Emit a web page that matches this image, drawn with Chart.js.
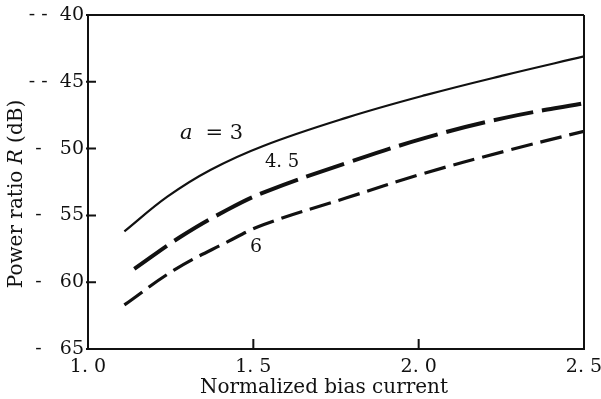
<!DOCTYPE html>
<html>
<head>
<meta charset="utf-8">
<script src="https://cdn.jsdelivr.net/npm/chart.js@4/dist/chart.umd.min.js"></script>
<style>
  html, body { margin: 0; padding: 0; background: #fff; }
  #wrap { width: 601px; height: 399px; }
</style>
</head>
<body>
<div id="wrap"><canvas id="c" width="601" height="399"></canvas></div>
<script>
// ---- data ----
const xA3  = [1.11, 1.24, 1.37, 1.53, 1.78, 2.02, 2.26, 2.50];
const yA3  = [-56.2, -53.6, -51.6, -49.8, -47.7, -46.0, -44.5, -43.1];
const xA45 = [1.14, 1.28, 1.42, 1.54, 1.78, 2.02, 2.26, 2.50];
const yA45 = [-59.0, -56.6, -54.6, -53.2, -51.1, -49.2, -47.7, -46.6];
const xA6  = [1.11, 1.26, 1.42, 1.53, 1.78, 2.01, 2.26, 2.50];
const yA6  = [-61.7, -59.1, -57.0, -55.7, -53.7, -51.9, -50.2, -48.7];

const xTickValues = [1.0, 1.5, 2.0, 2.5];
const xTickLabels = ['1. 0', '1. 5', '2. 0', '2. 5'];
const yTickValues = [-40, -45, -50, -55, -60, -65];
const yTickLabels = ['- -  40', '- -  45', '-   50', '-   55', '-   60', '-   65'];

const xTitle = 'Normalized bias current';
const yTitleParts = [['Power ratio ', ''], ['R', 'italic '], [' (dB)', '']];

const curveLabels = [
  { text: '= 3', italicPrefix: 'a', x: 1.278, y: -48.85, size: 21 },
  { text: '4. 5', italicPrefix: '', x: 1.535, y: -51.0, size: 18 },
  { text: '6', italicPrefix: '', x: 1.49, y: -57.4, size: 19 }
];

const INK = '#111';
const SERIF = '"DejaVu Serif", "Liberation Serif", serif';

function pts(xs, ys) { return xs.map((x, i) => ({ x: x, y: ys[i] })); }

const frame = {
  id: 'frame',
  afterDraw(chart) {
    const ctx = chart.ctx, a = chart.chartArea;
    const xs = chart.scales.x, ys = chart.scales.y;
    ctx.save();
    ctx.strokeStyle = INK;
    ctx.lineWidth = 2;
    ctx.beginPath();
    ctx.moveTo(a.left, a.top); ctx.lineTo(a.right, a.top);
    ctx.moveTo(a.right, a.top); ctx.lineTo(a.right, a.bottom);
    ctx.stroke();
    // inward ticks
    ctx.beginPath();
    yTickValues.forEach(v => {
      const py = ys.getPixelForValue(v);
      ctx.moveTo(a.left - 2, py); ctx.lineTo(a.left + 8, py);
    });
    xTickValues.forEach(v => {
      const px = xs.getPixelForValue(v);
      ctx.moveTo(px, a.bottom); ctx.lineTo(px, a.bottom - 10);
    });
    ctx.stroke();
    // curve labels
    ctx.fillStyle = INK;
    ctx.textBaseline = 'middle';
    curveLabels.forEach(l => {
      let px = xs.getPixelForValue(l.x);
      const py = ys.getPixelForValue(l.y);
      ctx.textAlign = 'left';
      if (l.italicPrefix) {
        ctx.font = 'italic ' + l.size + 'px ' + SERIF;
        ctx.fillText(l.italicPrefix, px, py);
        px += ctx.measureText(l.italicPrefix).width + 13;
      }
      ctx.font = l.size + 'px ' + SERIF;
      ctx.fillText(l.text, px, py);
    });
    // x title
    ctx.font = '20px ' + SERIF;
    ctx.textAlign = 'center';
    ctx.fillText(xTitle, 324, 388);
    // y title with italic R
    const fs = '20px ';
    let total = 0;
    yTitleParts.forEach(p => { ctx.font = p[1] + fs + SERIF; total += ctx.measureText(p[0]).width; });
    ctx.translate(17, 194);
    ctx.rotate(-Math.PI / 2);
    let cx = -total / 2;
    ctx.textAlign = 'left';
    yTitleParts.forEach(p => {
      ctx.font = p[1] + fs + SERIF;
      ctx.fillText(p[0], cx, 0);
      cx += ctx.measureText(p[0]).width;
    });
    ctx.restore();
  }
};

new Chart(document.getElementById('c'), {
  type: 'scatter',
  data: {
    datasets: [
      { label: 'a = 3', data: pts(xA3, yA3), showLine: true, borderColor: INK, borderWidth: 2.2,
        pointRadius: 0, tension: 0.4 },
      { label: 'a = 4.5', data: pts(xA45, yA45), showLine: true, borderColor: INK, borderWidth: 4,
        borderDash: [40, 9], pointRadius: 0, tension: 0.4 },
      { label: 'a = 6', data: pts(xA6, yA6), showLine: true, borderColor: INK, borderWidth: 3.2,
        borderDash: [22, 8], pointRadius: 0, tension: 0.4 }
    ]
  },
  options: {
    responsive: false,
    animation: false,
    devicePixelRatio: 1,
    layout: { padding: { top: 15, right: 17, left: 0, bottom: 0 } },
    plugins: { legend: { display: false }, tooltip: { enabled: false } },
    scales: {
      x: {
        type: 'linear', min: 1.0, max: 2.5,
        afterBuildTicks(s) { s.ticks = xTickValues.map(v => ({ value: v })); },
        ticks: {
          callback: (v) => { const i = xTickValues.indexOf(v); return i >= 0 ? xTickLabels[i] : ''; },
          font: { family: SERIF, size: 19 }, color: INK, padding: 7, maxRotation: 0, autoSkip: false
        },
        grid: { display: false, drawTicks: false },
        border: { display: true, color: INK, width: 2 },
        afterFit(s) { s.height = 50; s.paddingRight = 0; s.paddingLeft = 0; }
      },
      y: {
        min: -65, max: -40,
        afterBuildTicks(s) { s.ticks = yTickValues.map(v => ({ value: v })); },
        ticks: {
          callback: (v) => { const i = yTickValues.indexOf(v); return i >= 0 ? yTickLabels[i] : ''; },
          font: { family: SERIF, size: 19 }, color: INK, padding: 4, autoSkip: false
        },
        grid: { display: false, drawTicks: false },
        border: { display: true, color: INK, width: 2 },
        afterFit(s) { s.width = 88; s.paddingTop = 0; s.paddingBottom = 0; }
      }
    }
  },
  plugins: [frame]
});
</script>
</body>
</html>
